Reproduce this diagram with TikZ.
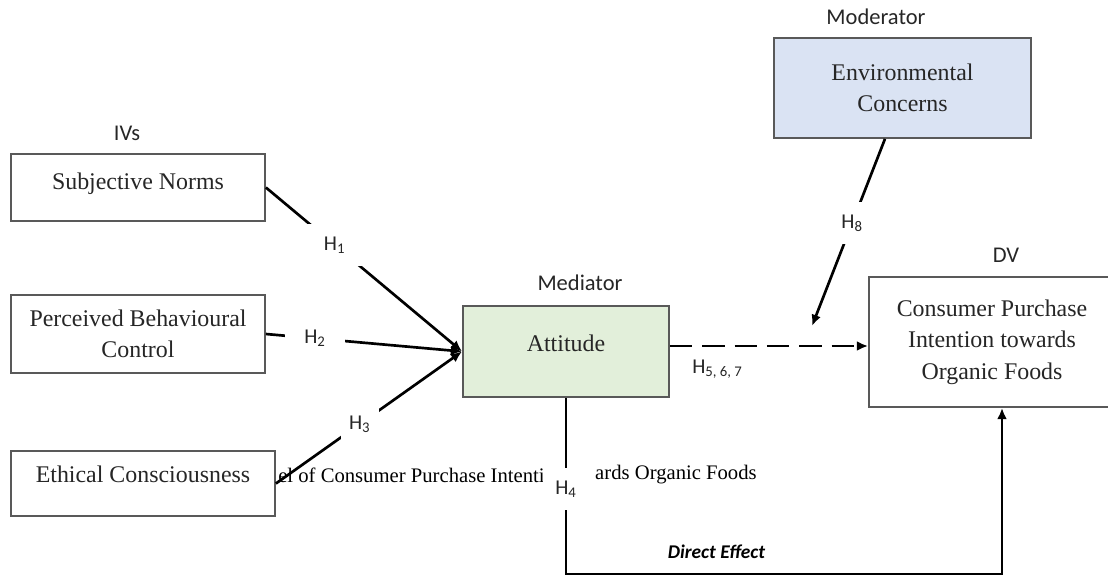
\documentclass[tikz,border=0pt]{standalone}
\usepackage{fontspec}
\setmainfont{Liberation Serif}
\newfontfamily\calibfont{Carlito}
\usetikzlibrary{arrows.meta,positioning}

\definecolor{boxgray}{HTML}{595959}
\definecolor{envblue}{HTML}{DAE3F3}
\definecolor{attgreen}{HTML}{E2EFDA}

\tikzset{
    box/.style={draw=boxgray, line width=1.3pt, fill=white, align=center, inner sep=0pt,
        text=black!85, font=\fontsize{17}{22.5}\selectfont},
    tag/.style={font=\calibfont\fontsize{16}{19}\selectfont, text=black!85},
    hlabel/.style={fill=white, minimum width=1.5cm, minimum height=1.05cm, inner sep=0pt,
        font=\calibfont\fontsize{15}{18}\selectfont, text=black!85},
    captext/.style={inner sep=0pt, font=\fontsize{14.7}{17}\selectfont},
    link/.style={line width=1.9pt, -{Latex[length=8pt,width=7pt]}}
}

\begin{document}
\begin{tikzpicture}
    \useasboundingbox (0,0) rectangle (27.7,-14.4);

    % caption text left behind the figure
    \node[captext, anchor=west] (cap1) at (6.95,-11.875) {el of Consumer Purchase Intenti};
    \node[captext, anchor=east] (cap2) at (18.925,-11.875) {ards Organic Foods};

    % group labels
    \node[tag] (ivs) at (3.175,-3.325) {IVs};
    \node[tag] (medtag) at (14.5,-7.075) {Mediator};
    \node[tag] (modtag) at (21.9,-0.425) {Moderator};
    \node[tag] (dvtag) at (25.15,-6.375) {DV};

    % constructs
    \node[box, minimum width=6.35cm, minimum height=1.675cm, text depth=9pt] (sn) at (3.45,-4.6875) {Subjective Norms};
    \node[box, minimum width=6.35cm, minimum height=1.95cm] (pbc) at (3.45,-8.35) {Perceived Behavioural\\Control};
    \node[box, minimum width=6.6cm, minimum height=1.625cm, text depth=13pt] (ec) at (3.575,-12.0875) {Ethical Consciousness};
    \node[box, fill=attgreen, minimum width=5.15cm, minimum height=2.275cm, text depth=12pt] (att) at (14.15,-8.7875) {Attitude};
    \node[box, fill=envblue, minimum width=6.425cm, minimum height=2.5cm] (env) at (22.5625,-2.2) {Environmental\\Concerns};
    \node[box, minimum width=6.15cm, minimum height=3.25cm] (cpi) at (24.8,-8.55) {Consumer Purchase\\Intention towards\\Organic Foods};

    \coordinate (mod) at (20.3,-8.15);
    \coordinate (dashy) at (0,-8.65);
    \coordinate (corner) at (25.05,-14.35);

    % paths
    \draw[link] (sn.east) -- node[hlabel, pos=0.35] (h1) {H\textsubscript{1}} (att.west);
    \draw[link] (pbc.east) -- node[hlabel, pos=0.25] (h2) {H\textsubscript{2}} (att.west);
    \draw[link] (ec.east) -- node[hlabel, minimum width=0.95cm, pos=0.45] (h3) {H\textsubscript{3}} (att.west);
    \draw[link, dash pattern=on 16pt off 7pt] (att.east |- dashy) -- node[hlabel, fill=none, minimum height=0pt, pos=0.24, below=9pt] (h5) {H\textsubscript{5, 6, 7}} (cpi.west |- dashy);
    \draw[link] (env.251) -- node[hlabel, pos=0.45] (h8) {H\textsubscript{8}} (mod);
    \draw[link] (att.south) -- node[hlabel, minimum width=1.15cm, pos=0.52] (h4) {H\textsubscript{4}} (att.south |- corner)
        -- node[pos=0.345, above=7pt, font=\calibfont\bfseries\itshape\fontsize{13.8}{16}\selectfont] (direct) {Direct Effect} (corner)
        -- (corner |- cpi.south);
\end{tikzpicture}
\end{document}
